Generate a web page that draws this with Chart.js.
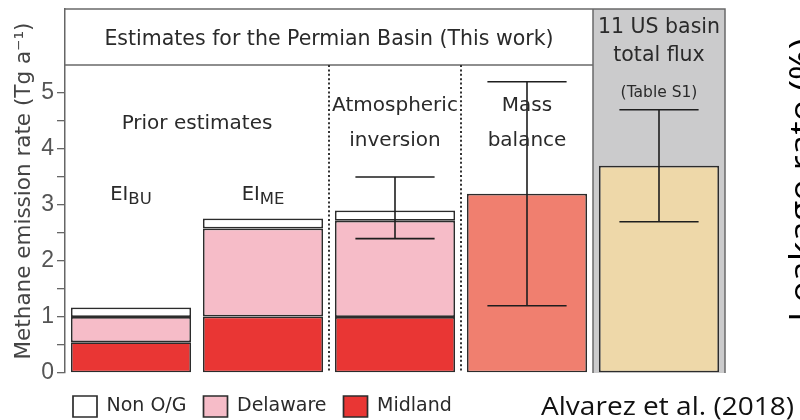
<!DOCTYPE html>
<html>
<head>
<meta charset="utf-8">
<script src="https://cdn.jsdelivr.net/npm/chart.js@4.4.1/dist/chart.umd.min.js"></script>
<style>
  html, body { margin: 0; padding: 0; background: #ffffff; }
  #wrap { width: 800px; height: 420px; }
</style>
</head>
<body>
<div id="wrap"><canvas id="c" width="800" height="420"></canvas></div>
<script>
// Methane emission estimates (Tg a-1) by method, stacked by sub-region
const categories = ['EI_BU', 'EI_ME', 'Atmospheric inversion', 'Mass balance', '11 US basin total flux'];
const midland  = [0.55, 1.01, 1.00, null, null];
const delaware = [0.45, 1.57, 1.72, null, null];
const nonOG    = [0.17, 0.18, 0.18, null, null];
const totals   = [null, null, null, 3.20, 3.70];
const errLow   = [null, null, 2.40, 1.20, 2.70];
const errHigh  = [null, null, 3.50, 5.20, 4.70];
const yMajorTicks = [0, 1, 2, 3, 4, 5];

const SANS = "'DejaVu Sans', sans-serif";
const TEXT = '#2a2a2a';

const overlay = {
  id: 'overlay',
  afterInit(chart) {
    // fixed-height legend strip under the plot
    const lg = chart.legend;
    const baseFit = lg.fit;
    lg.fit = function () { baseFit.call(this); this.height = 47; };
  },
  afterLayout(chart) {
    const lg = chart.legend, a = chart.chartArea;
    lg.left = a.left - 9;
    lg.top = a.bottom + 6;
  },
  beforeDatasetsDraw(chart) {
    const { ctx, chartArea: a, scales: { x, y } } = chart;
    const step = x.getPixelForValue(1) - x.getPixelForValue(0);
    const panelL = x.getPixelForValue(4) - step / 2;
    const headY = y.getPixelForValue(5.5);
    ctx.save();
    // grey panel for the multi-basin column
    ctx.fillStyle = '#cbcbcc';
    ctx.fillRect(panelL, a.top, a.right - panelL, a.bottom - a.top);
    ctx.strokeStyle = '#6a6a6a';
    ctx.lineWidth = 1.5;
    ctx.beginPath();
    ctx.moveTo(a.left, a.top); ctx.lineTo(a.right, a.top); ctx.lineTo(a.right, a.bottom);
    ctx.moveTo(panelL, a.top); ctx.lineTo(panelL, a.bottom);
    ctx.moveTo(a.left, headY); ctx.lineTo(panelL, headY);
    ctx.stroke();
    // dotted separators between method groups
    ctx.setLineDash([2, 2.4]);
    ctx.lineWidth = 2;
    ctx.strokeStyle = '#333333';
    [2, 3].forEach(i => {
      const xx = x.getPixelForValue(i) - step / 2;
      ctx.beginPath(); ctx.moveTo(xx, headY); ctx.lineTo(xx, a.bottom); ctx.stroke();
    });
    ctx.restore();
  },
  afterDatasetsDraw(chart) {
    const { ctx, chartArea: a, scales: { x, y } } = chart;
    const step = x.getPixelForValue(1) - x.getPixelForValue(0);
    const panelL = x.getPixelForValue(4) - step / 2;
    const cap = step * 0.3;
    ctx.save();
    // error bars
    ctx.strokeStyle = '#1e1e1e';
    ctx.lineWidth = 1.6;
    categories.forEach((c, i) => {
      if (errLow[i] == null) return;
      const cx = x.getPixelForValue(i);
      const yl = y.getPixelForValue(errLow[i]);
      const yh = y.getPixelForValue(errHigh[i]);
      ctx.beginPath();
      ctx.moveTo(cx, yl); ctx.lineTo(cx, yh);
      ctx.moveTo(cx - cap, yl); ctx.lineTo(cx + cap, yl);
      ctx.moveTo(cx - cap, yh); ctx.lineTo(cx + cap, yh);
      ctx.stroke();
    });

    // panel and group labels
    ctx.fillStyle = TEXT;
    ctx.textAlign = 'center';
    ctx.textBaseline = 'alphabetic';
    const t = (s, cx, by, size) => { ctx.font = size + 'px ' + SANS; ctx.fillText(s, cx, by); };
    t('Estimates for the Permian Basin (This work)', (a.left + panelL) / 2, 45, 20.5);
    t('11 US basin', x.getPixelForValue(4), 33, 20.5);
    t('total flux', x.getPixelForValue(4), 61, 20.5);
    t('(Table S1)', x.getPixelForValue(4), 97, 15.5);
    t('Prior estimates', (x.getPixelForValue(0) + x.getPixelForValue(1)) / 2, 129, 20);
    t('Atmospheric', x.getPixelForValue(2), 111, 20);
    t('inversion', x.getPixelForValue(2), 146, 20);
    t('Mass', x.getPixelForValue(3), 111, 20);
    t('balance', x.getPixelForValue(3), 146, 20);

    // EI labels with subscripts
    const sub = (main, s, cx) => {
      ctx.textAlign = 'left';
      ctx.font = '19.5px ' + SANS;
      const w1 = ctx.measureText(main).width;
      ctx.font = '16.5px ' + SANS;
      const w2 = ctx.measureText(s).width;
      const x0 = cx - (w1 + w2) / 2;
      ctx.font = '19.5px ' + SANS;
      ctx.fillText(main, x0, 200);
      ctx.font = '16.5px ' + SANS;
      ctx.fillText(s, x0 + w1, 204);
    };
    sub('EI', 'BU', x.getPixelForValue(0));
    sub('EI', 'ME', x.getPixelForValue(1));
    ctx.restore();
  },
  afterDraw(chart) {
    const { ctx } = chart;
    ctx.save();
    ctx.fillStyle = '#111111';
    ctx.font = "25.5px 'Open Sans', sans-serif";
    ctx.textBaseline = 'alphabetic';
    ctx.textAlign = 'left';
    ctx.translate(541, 415);
    ctx.scale(1.1, 1);
    ctx.fillText('Alvarez et al. (2018)', 0, 0);
    ctx.restore();

    ctx.save();
    ctx.fillStyle = '#000000';
    ctx.font = "32px 'Open Sans', sans-serif";
    ctx.textAlign = 'left';
    ctx.textBaseline = 'alphabetic';
    ctx.translate(813, 322);
    ctx.rotate(-Math.PI / 2);
    ctx.scale(1.16, 1);
    ctx.fillText('Leakage rate (%)', 0, 0);
    ctx.restore();
  }
};

const barBase = {
  borderColor: '#2c2c2c',
  borderWidth: 1.7,
  borderSkipped: false,
  barPercentage: 0.91,
  categoryPercentage: 1.0,
  stack: 'flux'
};

new Chart(document.getElementById('c'), {
  type: 'bar',
  data: {
    labels: categories,
    datasets: [
      Object.assign({ label: 'Midland',  data: midland,  backgroundColor: '#e93634' }, barBase),
      Object.assign({ label: 'Delaware', data: delaware, backgroundColor: '#f6bcc8' }, barBase),
      Object.assign({ label: 'Non O/G',  data: nonOG,    backgroundColor: '#ffffff' }, barBase),
      Object.assign({ label: 'Total',    data: totals,
        backgroundColor: ['#ffffff', '#ffffff', '#ffffff', '#f07f6f', '#eed8a9'] }, barBase)
    ]
  },
  options: {
    responsive: false,
    animation: false,
    layout: { padding: { left: 0, right: 75, top: 9, bottom: 0 } },
    plugins: {
      tooltip: { enabled: false },
      legend: {
        display: true,
        position: 'bottom',
        align: 'start',
        reverse: true,
        labels: {
          boxWidth: 24,
          boxHeight: 21,
          padding: 17,
          color: TEXT,
          font: { family: SANS, size: 19 },
          filter: item => item.datasetIndex !== 3
        }
      }
    },
    scales: {
      x: { stacked: true, display: false },
      y: {
        stacked: true,
        min: 0,
        max: 6.5,
        afterFit(s) { s.width = 65; s.paddingTop = 0; s.paddingBottom = 0; },
        afterBuildTicks(s) {
          const t = [];
          yMajorTicks.forEach(v => { t.push({ value: v }); if (v < 5) t.push({ value: v + 0.5 }); });
          s.ticks = t;
        },
        ticks: {
          autoSkip: false,
          padding: 3,
          color: '#555555',
          font: { family: "'Liberation Sans', sans-serif", size: 23 },
          callback: v => (yMajorTicks.includes(v) ? String(v) : '')
        },
        grid: {
          drawOnChartArea: false,
          drawTicks: true,
          tickLength: 8,
          color: '#666666',
          lineWidth: 1.3
        },
        border: { display: true, color: '#666666', width: 1.5 },
        title: {
          display: true,
          text: 'Methane emission rate (Tg a\u207B\u00B9)',
          color: '#444444',
          font: { family: SANS, size: 21.5 },
          padding: { top: 12, bottom: 0 }
        }
      }
    }
  },
  plugins: [overlay]
});
</script>
</body>
</html>
